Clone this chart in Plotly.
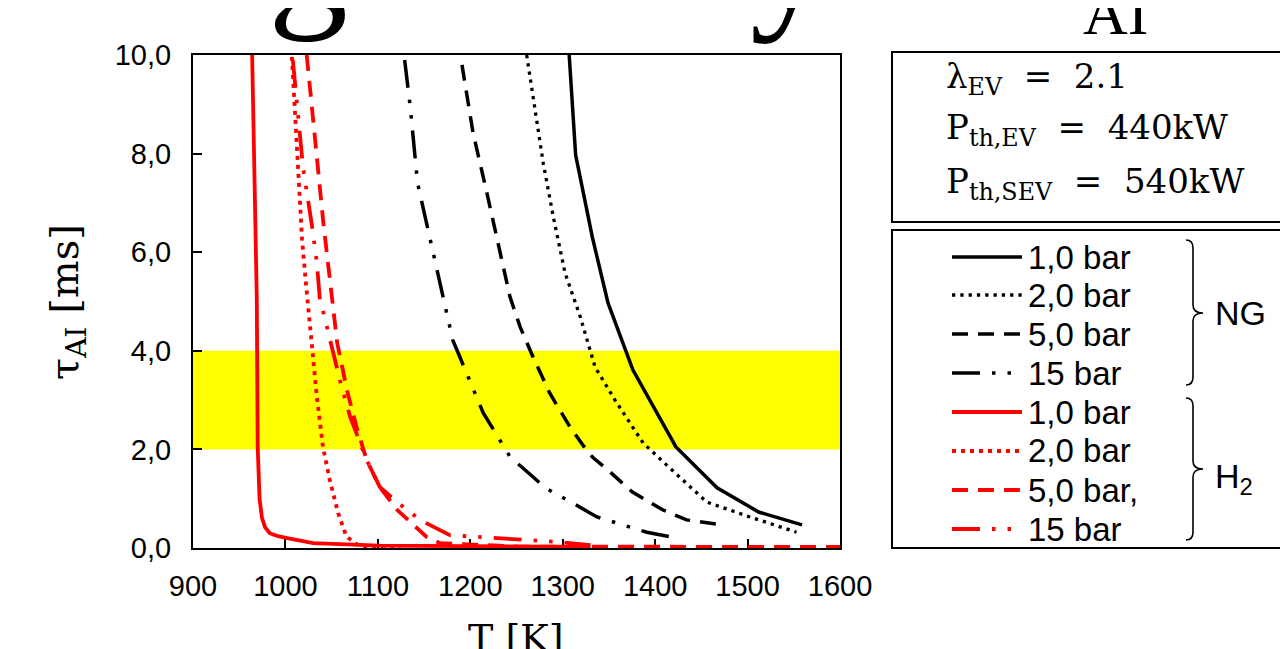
import plotly.graph_objects as go

# ---------------- data ----------------
T_NG_1 = [1307, 1314, 1332, 1349, 1376, 1422.5, 1467, 1512, 1559]
tau_NG_1 = [10.0, 7.97, 6.31, 4.97, 3.61, 2.05, 1.22, 0.73, 0.47]

T_NG_2 = [1261, 1268, 1279, 1290, 1302.5, 1319, 1335, 1356.6, 1387, 1416, 1456, 1502.6, 1553]
tau_NG_2 = [10.0, 9.15, 7.8, 6.7, 5.58, 4.69, 3.67, 3.0, 2.13, 1.62, 0.93, 0.63, 0.32]

T_NG_5 = [1191, 1203, 1218, 1232, 1243, 1254, 1268, 1286, 1308, 1327, 1333, 1349, 1375, 1408.5, 1434, 1473]
tau_NG_5 = [9.8, 8.42, 7.2, 5.98, 5.09, 4.48, 3.87, 3.14, 2.45, 1.95, 1.83, 1.58, 1.14, 0.77, 0.57, 0.47]

T_NG_15 = [1129, 1135, 1143, 1162, 1170, 1181, 1214, 1243, 1268, 1281, 1311, 1337, 1391, 1423.6]
tau_NG_15 = [9.9, 8.95, 7.4, 5.78, 5.09, 4.22, 2.74, 1.85, 1.44, 1.22, 0.91, 0.63, 0.32, 0.2]

T_H2_1 = [964, 969, 970, 972, 974.6, 978, 983, 992, 1002, 1030, 1102, 1200, 1330]
tau_H2_1 = [10.0, 5.07, 2.05, 1.0, 0.61, 0.42, 0.3, 0.24, 0.2, 0.1, 0.05, 0.03, 0.02]

T_H2_2 = [1007, 1010, 1012, 1014, 1018, 1023, 1029, 1034, 1040.6, 1048, 1057, 1066, 1080, 1125]
tau_H2_2 = [9.96, 8.95, 8.28, 7.6, 6.25, 5.2, 3.95, 3.07, 2.05, 1.38, 0.71, 0.23, 0.04, 0.02]

T_H2_5 = [1023, 1029, 1034, 1041, 1048, 1056, 1066.6, 1077, 1088, 1102, 1121, 1153, 1167, 1250, 1600]
tau_H2_5 = [10.0, 8.95, 7.93, 6.6, 5.4, 4.16, 3.2, 2.45, 1.78, 1.24, 0.77, 0.22, 0.1, 0.03, 0.02]

T_H2_15 = [1008, 1014, 1019, 1029, 1034, 1037, 1048, 1059, 1070, 1080.7, 1088, 1102, 1121, 1145.6, 1178, 1229, 1262, 1297, 1330]
tau_H2_15 = [9.9, 8.62, 7.73, 6.5, 5.8, 5.09, 4.22, 3.4, 2.66, 2.13, 1.78, 1.24, 0.93, 0.57, 0.26, 0.2, 0.16, 0.12, 0.06]

band_low, band_high = 2.0, 4.0

x_tickvals = [900, 1000, 1100, 1200, 1300, 1400, 1500, 1600]
x_ticktext = ["900", "1000", "1100", "1200", "1300", "1400", "1500", "1600"]
y_tickvals = [0, 2, 4, 6, 8, 10]
y_ticktext = ["0,0", "2,0", "4,0", "6,0", "8,0", "10,0"]

legend_labels = ["1,0 bar", "2,0 bar", "5,0 bar", "15 bar", "1,0 bar", "2,0 bar", "5,0 bar,", "15 bar"]
group_labels = ["NG", "H<sub>2</sub>"]
info_lines = ["λ<sub>EV</sub>  =  2.1", "P<sub>th,EV</sub>  =  440kW", "P<sub>th,SEV</sub>  =  540kW"]
title_fragments = ["g", "y", "AI"]  # only the lower edge of the (cropped) title is visible

# ---------------- layout geometry (page pixels) ----------------
OFF = 8  # default body margin of the html page
W, H = 1288 - OFF, 649 - OFF
L, R, TOP, BOT = 193, 840, 55, 548
PW, PH = R - L, BOT - TOP


def px(x):
    return (x - L) / PW


def py(y):
    return (BOT - y) / PH


BLACK = "#000000"
RED = "#FF0000"
DOT_B = "3.3px,5px"
DOT_R = "4px,5px"
DASH = "16px,10px"
DDD = "28px,12px,3.5px,12px,3.5px,12px"

series = [
    (T_NG_1, tau_NG_1, BLACK, "solid", 3.5),
    (T_NG_2, tau_NG_2, BLACK, DOT_B, 3.3),
    (T_NG_5, tau_NG_5, BLACK, DASH, 3.5),
    (T_NG_15, tau_NG_15, BLACK, DDD, 3.5),
    (T_H2_1, tau_H2_1, RED, "solid", 3.8),
    (T_H2_2, tau_H2_2, RED, DOT_R, 3.8),
    (T_H2_5, tau_H2_5, RED, DASH, 3.8),
    (T_H2_15, tau_H2_15, RED, DDD, 3.8),
]

fig = go.Figure()
for (xs, ys, col, dash, w), name in zip(series, legend_labels):
    fig.add_trace(go.Scatter(x=xs, y=ys, mode="lines", name=name,
                             line=dict(color=col, dash=dash, width=w),
                             showlegend=False, hoverinfo="x+y"))

shapes = []
# yellow band
shapes.append(dict(type="rect", xref="x", yref="y", x0=900, x1=1600,
                   y0=band_low, y1=band_high, fillcolor="#FFFF00",
                   line=dict(width=0), layer="below"))
# info box and legend box
shapes.append(dict(type="rect", xref="paper", yref="paper",
                   x0=px(892), x1=px(1300), y0=py(222), y1=py(52),
                   line=dict(color=BLACK, width=2), fillcolor="rgba(0,0,0,0)"))
shapes.append(dict(type="rect", xref="paper", yref="paper",
                   x0=px(892), x1=px(1300), y0=py(548), y1=py(230),
                   line=dict(color=BLACK, width=2), fillcolor="rgba(0,0,0,0)"))

row_y = [257, 295, 334, 373, 412, 451, 490, 529]
for i, (xs, ys, col, dash, w) in enumerate(series):
    yy = py(row_y[i])
    shapes.append(dict(type="line", xref="paper", yref="paper",
                       x0=px(952), x1=px(1022), y0=yy, y1=yy,
                       line=dict(color=col, dash=dash, width=w)))


# braces
def brace(y_top, y_bot, y_tip):
    xl, xb, xt = 1186, 1193, 1203
    pts = [
        f"M {px(xl)},{py(y_top)}",
        f"Q {px(xb)},{py(y_top)} {px(xb)},{py(y_top + 8)}",
        f"L {px(xb)},{py(y_tip - 8)}",
        f"Q {px(xb)},{py(y_tip)} {px(xt)},{py(y_tip)}",
        f"Q {px(xb)},{py(y_tip)} {px(xb)},{py(y_tip + 8)}",
        f"L {px(xb)},{py(y_bot - 8)}",
        f"Q {px(xb)},{py(y_bot)} {px(xl)},{py(y_bot)}",
    ]
    return dict(type="path", xref="paper", yref="paper", path=" ".join(pts),
                line=dict(color=BLACK, width=1.6))


shapes.append(brace(240, 385, 313))
shapes.append(brace(398, 540, 469))

annotations = []
# legend labels
for i, lab in enumerate(legend_labels):
    annotations.append(dict(xref="paper", yref="paper", x=px(1026), y=py(row_y[i]),
                            xanchor="left", yanchor="middle", showarrow=False,
                            text=lab, font=dict(family="Liberation Sans, Arial", size=33, color=BLACK)))
annotations.append(dict(xref="paper", yref="paper", x=px(1213), y=py(313), xanchor="left",
                        yanchor="middle", showarrow=False, text=group_labels[0],
                        font=dict(family="Liberation Sans, Arial", size=34, color=BLACK)))
annotations.append(dict(xref="paper", yref="paper", x=px(1213), y=py(478), xanchor="left",
                        yanchor="middle", showarrow=False, text=group_labels[1],
                        font=dict(family="Liberation Sans, Arial", size=34, color=BLACK)))
# info lines
for yv, t in zip([78, 130, 183], info_lines):
    annotations.append(dict(xref="paper", yref="paper", x=px(944), y=py(yv), xanchor="left",
                            yanchor="middle", showarrow=False, text=t,
                            font=dict(family="DejaVu Serif", size=34, color=BLACK)))
# axis titles
annotations.append(dict(xref="paper", yref="paper", x=px(67), y=py(302), xanchor="center",
                        yanchor="middle", showarrow=False, textangle=-90,
                        text="τ<sub>AI</sub> [ms]",
                        font=dict(family="DejaVu Serif", size=40, color=BLACK)))
annotations.append(dict(xref="paper", yref="paper", x=px(515), y=py(614), xanchor="center",
                        yanchor="top", showarrow=False, text="T [K]",
                        font=dict(family="DejaVu Serif", size=38, color=BLACK)))
# cropped title: only its lower edge shows
for frag, xc, yc, fs in zip(title_fragments, [308, 790, 1115], [-46, -44, 13], [160, 160, 62]):
    annotations.append(dict(xref="paper", yref="paper", x=px(xc), y=py(yc), xanchor="center",
                            yanchor="middle", showarrow=False, text=frag,
                            font=dict(family="Liberation Serif", size=fs, color=BLACK)))

fig.update_layout(
    width=W, height=H,
    margin=dict(l=L - OFF, r=W - (R - OFF), t=TOP - OFF, b=H - (BOT - OFF), pad=0, autoexpand=False),
    paper_bgcolor="white", plot_bgcolor="white",
    shapes=shapes, annotations=annotations,
    showlegend=False,
    xaxis=dict(range=[900, 1600], tickvals=x_tickvals, ticktext=x_ticktext,
               showgrid=False, zeroline=False, showline=True, linecolor=BLACK, linewidth=2,
               mirror=True, ticks="inside", ticklen=9, tickwidth=2, tickcolor=BLACK,
               tickfont=dict(family="Liberation Sans, Arial", size=29, color=BLACK),
               ticklabelstandoff=11, layer="below traces"),
    yaxis=dict(range=[0, 10], tickvals=y_tickvals, ticktext=y_ticktext,
               showgrid=False, zeroline=False, showline=True, linecolor=BLACK, linewidth=2,
               mirror=True, ticks="inside", ticklen=9, tickwidth=2, tickcolor=BLACK,
               tickfont=dict(family="Liberation Sans, Arial", size=29, color=BLACK),
               ticklabelstandoff=14, layer="below traces"),
)

fig.write_html("out.html")
